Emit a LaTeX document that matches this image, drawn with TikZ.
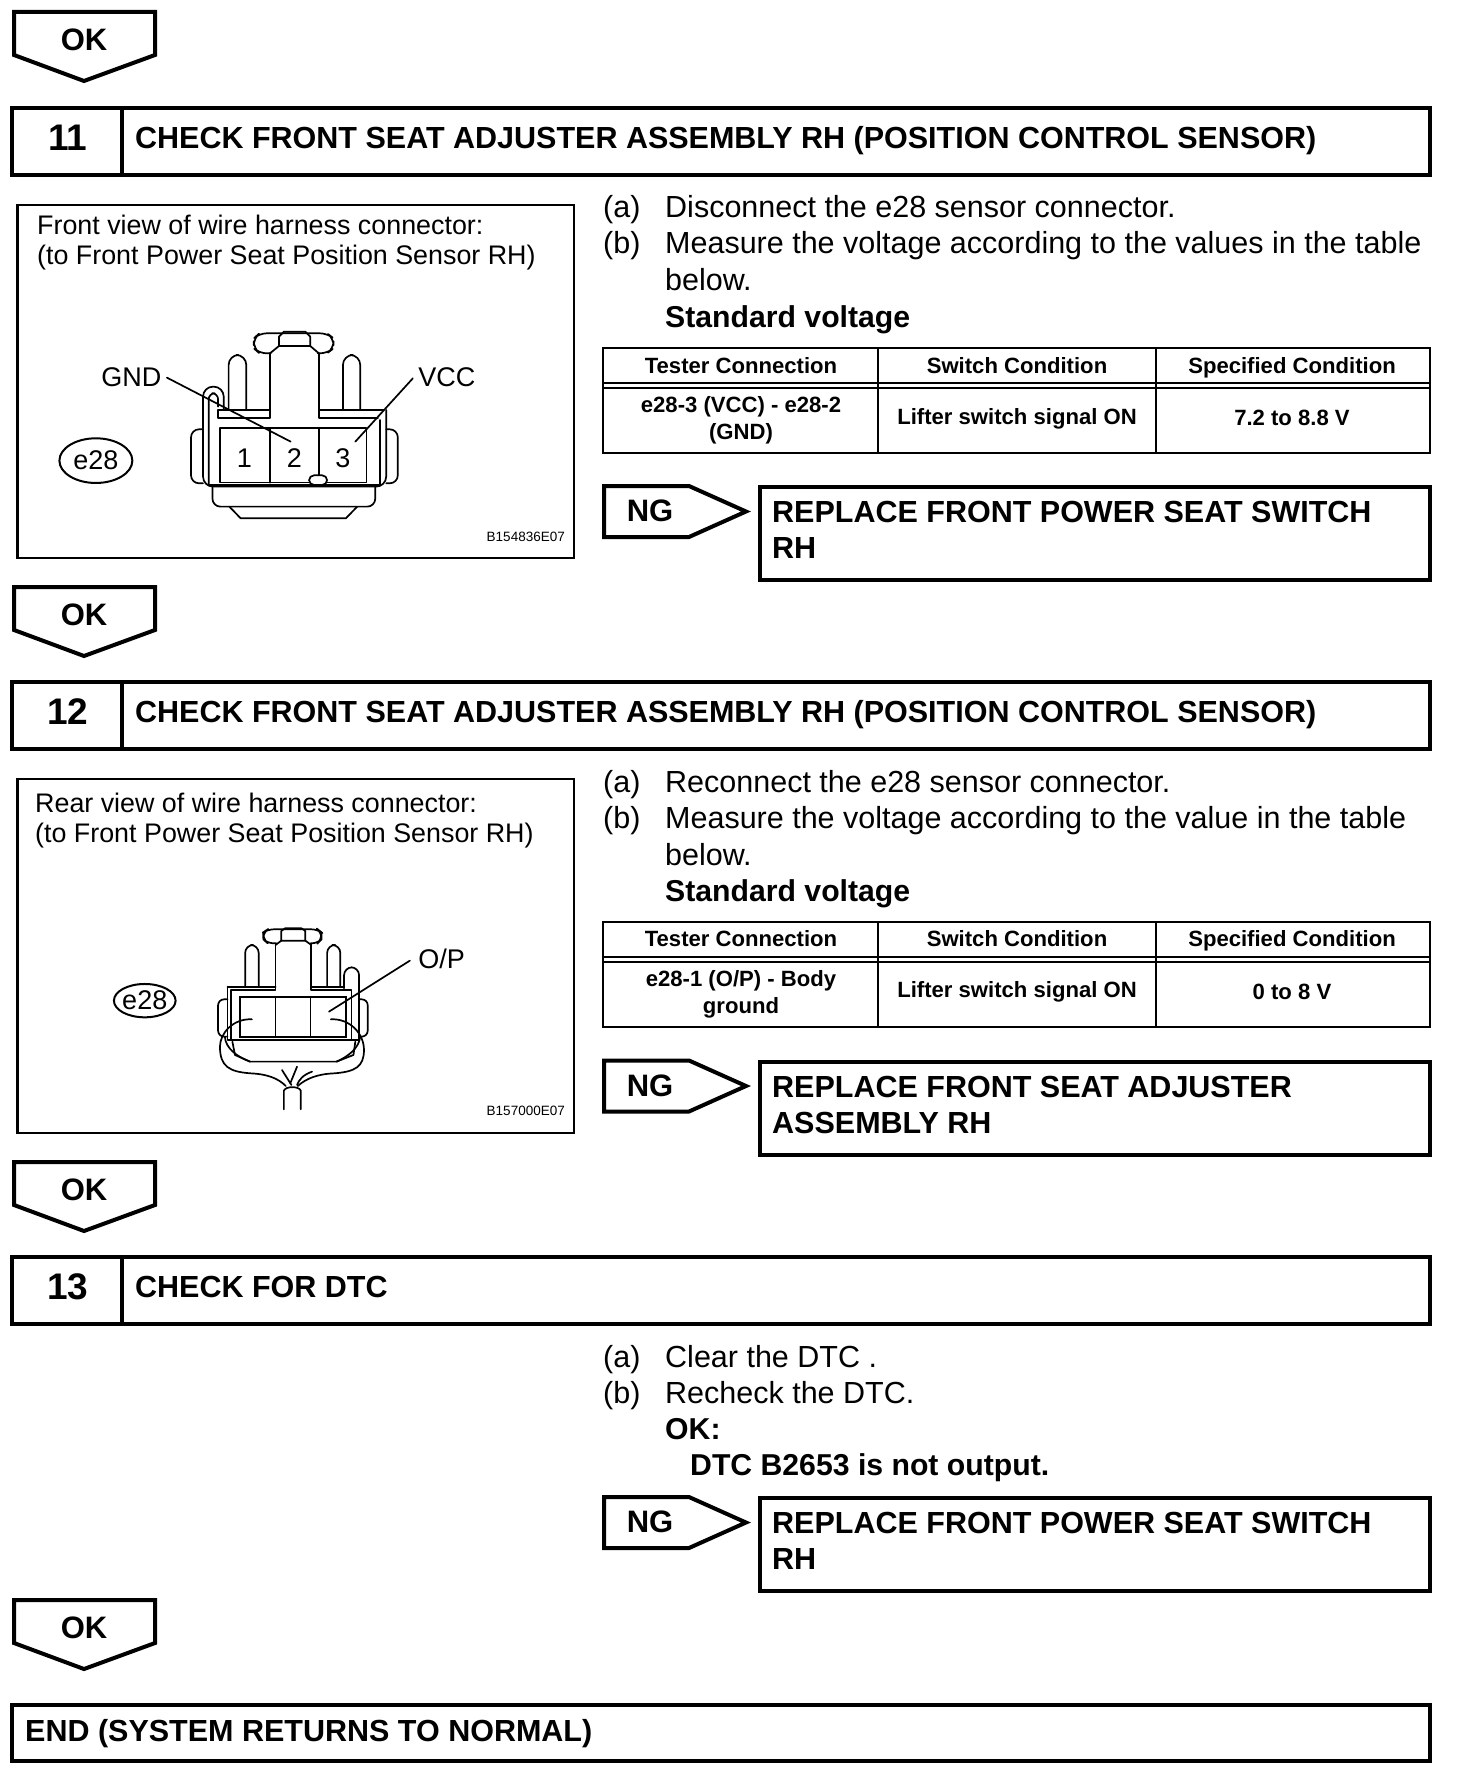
\documentclass[tikz,border=0pt]{standalone}
\usepackage{fontspec}
\setmainfont{Liberation Sans}
\tikzset{
  x=1pt,y=-1pt,
  heavy/.style={draw=black,line width=4pt,line join=miter},
  cell/.style={draw=black,line width=2pt},
  thin line/.style={draw=black,line width=1.7pt,line join=round,line cap=round},
  figbox/.style={draw=black,line width=2.2pt},
  body/.style={inner sep=0pt,anchor=base west,font=\fontsize{30.5}{36}\selectfont,align=left},
  boldbody/.style={body,font=\fontsize{30.2}{36}\selectfont\bfseries},
  headtxt/.style={inner sep=0pt,anchor=base west,font=\fontsize{30.5}{36}\selectfont\bfseries},
  numtxt/.style={inner sep=0pt,font=\fontsize{37}{40}\selectfont\bfseries},
  oktxt/.style={inner sep=0pt,font=\fontsize{31}{36}\selectfont\bfseries},
  tabtxt/.style={inner sep=0pt,align=center,font=\fontsize{22.1}{27.5}\selectfont\bfseries},
  tabhead/.style={tabtxt,anchor=base},
  figtxt/.style={inner sep=0pt,anchor=west,align=left,font=\fontsize{26.85}{30}\selectfont},
  lbl/.style={inner sep=0pt,font=\fontsize{27}{30}\selectfont},
  codetxt/.style={inner sep=0pt,anchor=east,font=\fontsize{13.5}{16}\selectfont},
}
% OK arrow: #1 name, #2 top y
\newcommand{\okarrow}[2]{%
  \begin{scope}[shift={(0,#2)}]
    \draw[heavy] (14,0) -- (155,0) -- (155,43) -- (84,69) -- (14,43) -- cycle;
    \node[oktxt] (#1) at (84,28) {OK};
  \end{scope}}
% header: #1 name, #2 top y, #3 number, #4 title
\newcommand{\header}[4]{%
  \begin{scope}[shift={(0,#2)}]
    \draw[heavy] (12,0) rectangle (1430,67);
    \draw[heavy] (122,0) -- (122,67);
    \node[numtxt] (#1n) at (68,30) {#3};
    \node[headtxt] (#1t) at (135,40.5) {#4};
  \end{scope}}
% NG arrow and result box: #1 name, #2 offset, #3 text
\newcommand{\ngblock}[3]{%
  \begin{scope}[shift={(0,#2)}]
    \draw[heavy] (604,486) -- (689,486) -- (746,511.5) -- (689,537) -- (604,537) -- cycle;
    \node[oktxt] (#1a) at (650,511) {NG};
    \draw[heavy] (760,487) rectangle (1430,580);
    \node[inner sep=0pt,align=left,anchor=north west,font=\fontsize{30.5}{36}\selectfont\bfseries] (#1b) at (772,501) {#3};
  \end{scope}}
% table: #1 name, #2 offset, #3,#4,#5 row cells, #6 shift of the first cell
\newcommand{\vtable}[5]{%
  \begin{scope}[shift={(0,#2)}]
    \draw[cell] (603,348) rectangle (1430,453);
    \draw[cell] (603,383) -- (1430,383);
    \draw[cell] (603,388) -- (1430,388);
    \draw[cell] (878,348) -- (878,453);
    \draw[cell] (1156,348) -- (1156,453);
    \node[tabhead] (#1h1) at (741,373) {Tester Connection};
    \node[tabhead] (#1h2) at (1017,373) {Switch Condition};
    \node[tabhead] (#1h3) at (1292,373) {Specified Condition};
    \node[tabtxt] (#1c1) at (741,420.5) {#3};
    \node[tabtxt] (#1c2) at (1017,418.5) {#4};
    \node[tabtxt] (#1c3) at (1292,418) {#5};
  \end{scope}}
% steps: #1 name, #2 offset, #3 a-text, #4 b-text first line
\newcommand{\steps}[4]{%
  \begin{scope}[shift={(0,#2)}]
    \node[body] (#1a) at (603,218) {(a)};
    \node[body] (#1at) at (665,218) {#3};
    \node[body] (#1b) at (603,254) {(b)};
    \node[body] (#1bt) at (665,254) {#4};
    \node[body] (#1bu) at (665,291) {below.};
    \node[boldbody] (#1s) at (665,327) {Standard voltage};
  \end{scope}}
\begin{document}
\begin{tikzpicture}
\useasboundingbox (0,0) rectangle (1456,1784);
\fill[white] (0,0) rectangle (1456,1784);

\okarrow{ok1}{12}
\header{h11}{108}{11}{CHECK FRONT SEAT ADJUSTER ASSEMBLY RH (POSITION CONTROL SENSOR)}
\steps{s11}{0}{Disconnect the e28 sensor connector.}{Measure the voltage according to the values in the table}
\vtable{t11}{0}{e28-3 (VCC) - e28-2\\(GND)}{Lifter switch signal ON}{7.2 to 8.8 V}
\ngblock{ng11}{0}{REPLACE FRONT POWER SEAT SWITCH\\RH}

% figure 11
\draw[figbox] (17.5,205) rectangle (574,558);
\node[figtxt] (f11t) at (37,240) [yshift=-3pt] {Front view of wire harness connector:\\(to Front Power Seat Position Sensor RH)};
\node[codetxt] (f11c) at (565,537) {B154836E07};
\begin{scope}[shift={(0,190)},x=0.376pt,y=-0.3333pt]
  \draw[thin line,rounded corners=7pt] (720,490) -- (690,490) -- (675,475) -- (675,445) -- (690,430) -- (870,430) -- (887,445) -- (887,475) -- (870,490) -- (845,490);
  \draw[thin line] (742,468) -- (742,440) -- (755,425) -- (812,425) -- (825,440) -- (825,468) -- cycle;
  \draw[thin line] (742,468) -- (718,490); \draw[thin line] (825,468) -- (848,490);
  \draw[thin line] (718,490) -- (718,685) -- (580,685) -- (580,660);
  \draw[thin line] (848,490) -- (848,685) -- (1005,685);
  \draw[thin line] (580,660) -- (718,660);
  \draw[thin line] (848,660) -- (1020,660);
  \draw[thin line,rounded corners=10pt] (608,660) -- (608,495) -- (655,495) -- (655,660);
  \draw[thin line,rounded corners=10pt] (912,660) -- (912,495) -- (958,495) -- (958,660);
  \draw[thin line,rounded corners=10pt] (595,660) -- (595,590) -- (540,590) -- (540,890) -- (1027,890) -- (1027,660);
  \draw[thin line,rounded corners=6pt] (580,650) -- (580,610) -- (555,610) -- (555,885);
  \draw[thin line] (555,885) -- (1010,885) -- (1010,690);
  \draw[thin line] (585,715) rectangle (975,878);
  \draw[thin line] (718,715) -- (718,878);
  \draw[thin line] (848,715) -- (848,858);
  \draw[thin line,rounded corners=5pt,fill=white] (822,856) rectangle (870,885);
  \draw[thin line,rounded corners=8pt] (540,718) -- (508,718) -- (508,880) -- (540,880);
  \draw[thin line,rounded corners=8pt] (1027,718) -- (1058,718) -- (1058,880) -- (1027,880);
  \draw[thin line,rounded corners=8pt] (565,892) -- (565,950) -- (998,950) -- (998,892);
  \draw[thin line] (610,950) -- (640,985) -- (920,985) -- (950,950);
  \node[lbl] (p1) at (650,805) {1};
  \node[lbl] (p2) at (783,805) {2};
  \node[lbl] (p3) at (912,805) {3};
  \node[lbl,anchor=east] (gnd) at (430,563) {GND};
  \node[lbl,anchor=west] (vcc) at (1112,563) {VCC};
  \coordinate (gndend) at (773,755);
  \coordinate (vccend) at (945,755);
  \draw[thin line] (gnd.east) ++(14,0) -- (gndend);
  \draw[thin line] (vcc.west) ++(-14,2) -- (vccend);
  \draw[line width=2pt] (255,812) ellipse [x radius=97,y radius=67];
  \node[lbl] (e28a) at (255,812) {e28};
\end{scope}

\okarrow{ok2}{587}
\header{h12}{682}{12}{CHECK FRONT SEAT ADJUSTER ASSEMBLY RH (POSITION CONTROL SENSOR)}
\steps{s12}{574.5}{Reconnect the e28 sensor connector.}{Measure the voltage according to the value in the table}
\vtable{t12}{573.8}{e28-1 (O/P) - Body\\ground}{Lifter switch signal ON}{0 to 8 V}
\ngblock{ng12}{574.5}{REPLACE FRONT SEAT ADJUSTER\\ASSEMBLY RH}

% figure 12
\draw[figbox] (17.5,779) rectangle (574,1133);
\node[figtxt] (f12t) at (35,817) [yshift=-4pt] {Rear view of wire harness connector:\\(to Front Power Seat Position Sensor RH)};
\node[codetxt] (f12c) at (565,1111) {B157000E07};
\begin{scope}[shift={(0,770)},x=0.376pt,y=-0.3333pt]
  \draw[thin line,rounded corners=6pt] (735,520) -- (712,520) -- (700,508) -- (700,487) -- (712,478) -- (845,478) -- (855,487) -- (855,508) -- (845,520) -- (826,520);
  \draw[thin line] (748,512) -- (748,483) -- (758,475) -- (802,475) -- (812,483) -- (812,512) -- cycle;
  \draw[thin line] (748,512) -- (733,525); \draw[thin line] (812,512) -- (828,525);
  \draw[thin line] (733,525) -- (733,660) -- (615,660) -- (615,810);
  \draw[thin line] (828,525) -- (828,660) -- (935,660) -- (935,810);
  \draw[thin line] (605,650) -- (733,650);
  \draw[thin line] (828,650) -- (915,650);
  \draw[thin line,rounded corners=8pt] (652,648) -- (652,525) -- (688,525) -- (688,648);
  \draw[thin line,rounded corners=8pt] (870,648) -- (870,525) -- (905,525) -- (905,648);
  \draw[thin line,rounded corners=8pt] (915,655) -- (915,592) -- (955,592) -- (955,810);
  \draw[thin line] (605,650) -- (605,810) -- (955,810);
  \draw[line width=2.2pt] (638,680) rectangle (920,800);
  \draw[thin line] (733,680) -- (733,800);
  \draw[thin line] (826,680) -- (826,800);
  \draw[thin line,rounded corners=6pt] (605,688) -- (580,688) -- (580,800) -- (605,800);
  \draw[thin line,rounded corners=6pt] (955,688) -- (978,688) -- (978,800) -- (955,800);
  \draw[thin line] (618,815) -- (625,855) -- (665,875) -- (895,875) -- (940,855) -- (945,815);
  \draw[thin line] (670,748) .. controls (620,745) and (585,790) .. (585,830) .. controls (585,890) and (610,905) .. (665,910) .. controls (710,912) and (740,925) .. (760,948);
  \draw[thin line] (880,748) .. controls (930,745) and (968,790) .. (968,840) .. controls (968,890) and (945,905) .. (890,910) .. controls (845,912) and (815,925) .. (792,948);
  \draw[thin line] (598,800) .. controls (600,835) and (630,860) .. (665,875);
  \draw[thin line] (958,800) .. controls (955,835) and (925,860) .. (895,875);
  \draw[thin line] (750,900) -- (775,945);
  \draw[thin line] (790,890) -- (772,940);
  \draw[thin line] (830,905) .. controls (805,915) and (795,930) .. (790,945);
  \draw[thin line] (755,1018) -- (755,962) .. controls (760,948) and (795,948) .. (800,962) -- (800,1018);
  \node[lbl,anchor=west] (op) at (1112,567) {O/P};
  \coordinate (opend) at (875,725);
  \draw[thin line] (op.west) ++(-22,5) -- (opend);
  \draw[line width=2pt] (385,692) ellipse [x radius=82,y radius=50];
  \node[lbl] (e28b) at (385,692) {e28};
\end{scope}

\okarrow{ok3}{1162}
\header{h13}{1257}{13}{CHECK FOR DTC}
\node[body] (s13a) at (603,1367) {(a)};
\node[body] (s13at) at (665,1367) {Clear the DTC .};
\node[body] (s13b) at (603,1403) {(b)};
\node[body] (s13bt) at (665,1403) {Recheck the DTC.};
\node[boldbody] (s13ok) at (665,1439) {OK:};
\node[boldbody] (s13d) at (690,1475) {DTC B2653 is not output.};
\ngblock{ng13}{1011}{REPLACE FRONT POWER SEAT SWITCH\\RH}

\okarrow{ok4}{1600}
\draw[heavy] (12,1705) rectangle (1430,1761);
\node[headtxt] (endt) at (25,1741) {END (SYSTEM RETURNS TO NORMAL)};
\end{tikzpicture}
\end{document}
